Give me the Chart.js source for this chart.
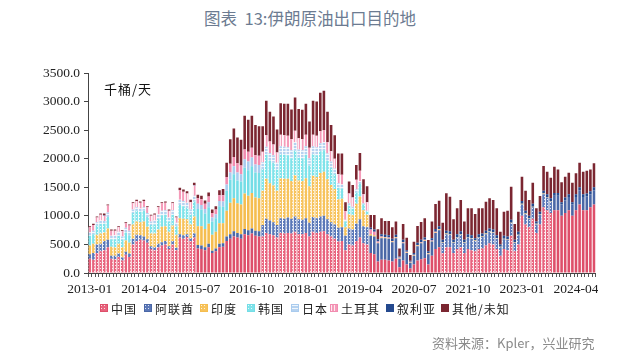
<!DOCTYPE html>
<html><head><meta charset="utf-8">
<script src="https://cdn.jsdelivr.net/npm/chart.js@4.4.1/dist/chart.umd.min.js"></script>
<style>
html,body{margin:0;padding:0;background:#fff;}
#wrap{position:relative;width:640px;height:354px;overflow:hidden;background:#fff;}
#title{position:absolute;left:0;width:620px;top:6px;text-align:center;font:16.5px 'Noto Sans CJK SC';color:#6c7b91;white-space:pre;}
#cvbox{position:absolute;left:0;top:0;width:598px;height:354px;overflow:hidden;}
#unit{position:absolute;left:104px;top:79px;font:13px 'Noto Sans CJK SC';color:#111;letter-spacing:1px;}
.lg{position:absolute;top:300px;height:16px;font:12px 'Noto Sans CJK SC';color:#222;display:flex;align-items:center;letter-spacing:1px;white-space:nowrap;}
.lg canvas{margin-right:3px;}
#src{position:absolute;left:432px;top:333px;font:13px 'Noto Sans CJK SC';color:#8a8a8a;}
</style></head>
<body><div id="wrap">
<div id="title">图表  13:伊朗原油出口目的地</div>
<div id="cvbox"><canvas id="cv" width="598" height="354"></canvas></div>
<div id="unit">千桶/天</div>
<div id="legend"></div>
<div id="src">资料来源：Kpler，兴业研究</div>
</div>
<script>
const months = [
"2013-01","2013-02","2013-03","2013-04","2013-05","2013-06","2013-07","2013-08","2013-09","2013-10","2013-11","2013-12",
"2014-01","2014-02","2014-03","2014-04","2014-05","2014-06","2014-07","2014-08","2014-09","2014-10","2014-11","2014-12",
"2015-01","2015-02","2015-03","2015-04","2015-05","2015-06","2015-07","2015-08","2015-09","2015-10","2015-11","2015-12",
"2016-01","2016-02","2016-03","2016-04","2016-05","2016-06","2016-07","2016-08","2016-09","2016-10","2016-11","2016-12",
"2017-01","2017-02","2017-03","2017-04","2017-05","2017-06","2017-07","2017-08","2017-09","2017-10","2017-11","2017-12",
"2018-01","2018-02","2018-03","2018-04","2018-05","2018-06","2018-07","2018-08","2018-09","2018-10","2018-11","2018-12",
"2019-01","2019-02","2019-03","2019-04","2019-05","2019-06","2019-07","2019-08","2019-09","2019-10","2019-11","2019-12",
"2020-01","2020-02","2020-03","2020-04","2020-05","2020-06","2020-07","2020-08","2020-09","2020-10","2020-11","2020-12",
"2021-01","2021-02","2021-03","2021-04","2021-05","2021-06","2021-07","2021-08","2021-09","2021-10","2021-11","2021-12",
"2022-01","2022-02","2022-03","2022-04","2022-05","2022-06","2022-07","2022-08","2022-09","2022-10","2022-11","2022-12",
"2023-01","2023-02","2023-03","2023-04","2023-05","2023-06","2023-07","2023-08","2023-09","2023-10","2023-11","2023-12",
"2024-01","2024-02","2024-03","2024-04","2024-05","2024-06","2024-07","2024-08","2024-09"
];
const tickLabels = ["2013-01","2014-04","2015-07","2016-10","2018-01","2019-04","2020-07","2021-10","2023-01","2024-04"];
const yTicks = [0,500,1000,1500,2000,2500,3000,3500];

const china = [
250,230,350,380,400,450,250,240,280,220,320,280,
500,560,580,570,530,420,400,450,480,500,420,500,
400,620,600,630,560,620,
430,420,400,450,350,380,450,460,560,600,640,620,600,680,660,690,650,640,
640,700,680,660,620,700,690,700,690,720,680,680,700,640,720,700,720,730,680,640,600,550,560,
400,500,480,560,620,520,500,350,330,
200,230,230,220,200,250,100,220,150,80,150,220,240,260,150,300,420,450,
350,450,450,350,420,450,350,420,400,380,420,430,480,520,500,420,300,420,400,650,380,500,
1000,850,800,950,700,850,1150,1100,1050,1100,1100,1000,1050,1100,1000,1100,1200,1100,1100,1150,1200
];
const uae = [
80,120,150,130,160,130,50,60,60,50,50,60,
100,110,80,70,60,50,50,60,60,60,50,60,
40,60,60,50,50,70,
60,60,50,60,40,50,60,60,80,80,90,80,80,90,90,90,90,90,
200,250,240,230,220,260,260,270,260,270,260,250,260,240,260,260,270,270,260,250,250,240,240,
250,280,280,300,320,300,300,300,310,
320,380,380,380,340,360,150,300,200,100,150,250,280,300,180,250,280,300,
180,230,220,180,200,220,180,200,200,180,200,200,200,200,200,180,150,170,180,220,150,160,
200,180,150,200,150,170,230,220,200,250,250,200,220,230,200,230,250,230,240,230,250
];
const india = [
150,160,170,180,150,200,160,150,170,180,200,190,
250,230,230,260,220,220,240,250,270,260,250,270,
230,280,290,260,240,300,
330,340,320,350,280,290,360,350,450,550,580,520,520,620,600,620,580,580,
600,700,650,640,600,700,700,680,660,720,680,680,700,640,720,720,760,770,700,650,620,500,500,
150,250,250,350,400,280,220,30,20,
10,10,10,10,10,10,10,10,10,10,10,10,10,10,10,10,10,10,
10,10,10,10,10,10,10,10,10,10,10,10,10,10,10,10,10,10,10,10,10,10,
10,10,10,10,10,10,10,10,10,0,0,0,0,0,0,0,0,0,0,0,0
];
const korea = [
170,170,160,170,150,200,130,140,140,130,140,130,
200,190,180,190,170,150,160,190,200,200,180,190,
150,230,220,200,180,260,
300,290,270,290,230,240,300,290,350,400,420,400,400,450,450,470,440,440,
380,420,400,400,370,420,420,410,400,430,400,400,410,360,380,380,380,380,330,300,260,200,180,
100,150,120,200,220,100,60,0,0,
0,0,0,0,0,0,0,0,0,0,0,0,0,0,0,0,0,0,
0,0,0,0,0,0,0,0,0,0,0,0,0,0,0,0,0,0,0,0,0,0,
0,0,0,0,0,0,0,0,0,0,0,0,0,0,0,0,0,0,0,0,0
];
const japan = [
60,60,60,60,50,80,60,70,70,60,80,80,
60,60,60,60,70,60,70,80,80,80,70,80,
60,90,90,90,80,100,
90,80,80,90,70,70,90,90,110,130,140,140,130,150,150,150,140,140,
120,140,130,130,120,140,140,140,140,150,140,140,150,130,140,140,140,140,120,110,100,80,70,
30,40,30,50,50,20,10,0,0,
0,0,0,0,0,0,0,0,0,0,0,0,0,0,0,0,0,0,
0,0,0,0,0,0,0,0,0,0,0,0,0,0,0,0,0,0,0,0,0,0,
0,0,0,0,0,0,0,0,0,0,0,0,0,0,0,0,0,0,0,0,0
];
const turkey = [
90,100,80,100,90,120,90,80,80,90,80,90,
110,110,100,110,100,100,100,120,130,130,120,120,
90,170,160,160,130,180,
100,100,90,100,80,80,100,110,130,150,160,160,150,170,170,170,160,160,
180,200,200,190,180,200,200,200,190,200,200,190,200,180,200,200,210,210,200,180,170,160,170,
150,170,160,170,180,160,150,80,60,
20,20,10,10,10,10,10,10,10,5,10,10,10,10,10,10,10,10,
0,0,0,0,0,0,0,0,0,0,0,0,0,0,0,0,0,0,0,0,0,0,
0,0,0,0,0,0,0,0,0,0,0,0,0,0,0,0,0,0,0,0,0
];
const syria = [
0,0,0,0,10,0,0,0,0,0,0,0,
0,0,0,0,0,0,0,0,0,0,0,0,
0,0,0,0,0,10,
0,0,0,0,0,0,0,0,0,0,0,0,0,0,0,0,0,0,
0,0,0,0,0,0,0,0,0,0,0,0,0,0,0,0,0,0,0,0,0,0,0,
0,0,0,0,0,0,0,30,40,
40,40,40,40,40,40,20,40,30,20,30,40,40,40,30,40,50,50,
40,50,50,40,50,50,40,50,50,40,50,50,50,50,50,50,40,50,50,50,40,50,
50,50,40,50,40,40,50,50,50,50,50,40,50,50,40,50,50,50,50,50,50
];
const other = [
20,20,20,20,30,20,20,20,20,20,20,20,
20,20,20,20,20,20,20,20,20,20,20,20,
20,40,40,40,40,40,
60,60,60,70,60,60,90,110,250,430,500,450,450,590,560,560,530,520,
450,605,520,490,400,550,550,560,520,580,510,515,540,460,595,600,675,690,530,460,410,360,370,
160,210,220,260,310,260,280,225,255,
175,277,240,250,200,230,140,278,219,100,198,292,312,337,198,290,438,446,
300,655,606,360,452,548,320,452,472,422,452,442,509,527,518,472,223,423,451,581,278,353,
426,351,278,371,232,278,432,393,358,460,413,347,366,376,341,364,431,393,401,383,419
];

// styling
const solidRanges = [[30,47],[78,97],[129,140]];
function isSolid(i){ return solidRanges.some(r => i >= r[0] && i <= r[1]); }
function makePattern(base, kind){
  const c = document.createElement('canvas'); c.width = 3; c.height = 3;
  const g = c.getContext('2d');
  g.fillStyle = base; g.fillRect(0,0,3,3);
  g.fillStyle = 'rgba(255,255,255,0.8)';
  if (kind === 'dot') g.fillRect(1,1,1,1);
  else if (kind === 'h') g.fillRect(0,1,3,1);
  else if (kind === 'v') g.fillRect(1,0,1,3);
  return g.createPattern(c, 'repeat');
}
const seriesDefs = [
  {label:'中国', data:china, color:'#e8637d', solid:'#de4f6a', kind:'dot'},
  {label:'阿联酋', data:uae, color:'#5b78b8', solid:'#4a67a6', kind:'dot'},
  {label:'印度', data:india, color:'#f7c35c', solid:'#f5bd4f', kind:'dot'},
  {label:'韩国', data:korea, color:'#7fe3ea', solid:'#74dde6', kind:'dot'},
  {label:'日本', data:japan, color:'#b5d2f0', solid:'#a9cbee', kind:'h'},
  {label:'土耳其', data:turkey, color:'#f59bb9', solid:'#f28cb0', kind:'v'},
  {label:'叙利亚', data:syria, color:'#24498e', solid:'#24498e', kind:'none'},
  {label:'其他/未知', data:other, color:'#7b2631', solid:'#7b2631', kind:'none'}
];
const datasets = seriesDefs.map(s => {
  const pat = s.kind === 'none' ? s.color : makePattern(s.color, s.kind);
  return {
    label: s.label, data: s.data, borderWidth: 0,
    backgroundColor: ctx => isSolid(ctx.dataIndex) ? s.solid : pat,
    barPercentage: 0.72, categoryPercentage: 1.0
  };
});

// HTML legend
const lgX = [100,144,200,247,291,330,386,441];
const lgBox = document.getElementById('legend');
seriesDefs.forEach((s, k) => {
  const d = document.createElement('div'); d.className = 'lg'; d.style.left = lgX[k] + 'px';
  const c = document.createElement('canvas'); c.width = 8; c.height = 8;
  const g = c.getContext('2d');
  g.fillStyle = s.kind === 'none' ? s.color : makePattern(s.color, s.kind);
  g.fillRect(0,0,8,8);
  if (s.kind !== 'none') { g.strokeStyle = s.solid; g.lineWidth = 1; g.strokeRect(0.5,0.5,7,7); }
  d.appendChild(c);
  const t = document.createElement('span'); t.textContent = s.label; d.appendChild(t);
  lgBox.appendChild(d);
});

new Chart(document.getElementById('cv'), {
  type: 'bar',
  data: { labels: months, datasets },
  options: {
    responsive: false, animation: false,
    layout: { padding: { left: 0, right: 1, top: 73, bottom: 0 } },
    plugins: { legend: { display: false }, tooltip: { enabled: false } },
    scales: {
      x: {
        stacked: true,
        grid: { drawOnChartArea: false, tickLength: 4, color: '#555', offset: true },
        border: { color: '#444' },
        ticks: {
          autoSkip: false, maxRotation: 0, minRotation: 0, padding: 4, color: '#222',
          font: { family: 'Liberation Serif', size: 13.5 },
          callback: function(v){ const l = this.getLabelForValue(v); return tickLabels.includes(l) ? l : ''; }
        },
        afterFit: s => { s.height = 81; }
      },
      y: {
        stacked: true, min: 0, max: 3500,
        grid: { drawOnChartArea: false, tickLength: 4, color: '#444' },
        border: { color: '#444' },
        afterBuildTicks: s => { s.ticks = yTicks.map(v => ({ value: v })); },
        ticks: {
          color: '#222', padding: 4,
          font: { family: 'Liberation Serif', size: 13.5 },
          callback: v => Number(v).toFixed(1)
        },
        afterFit: s => { s.width = 88; }
      }
    }
  }
});
</script>
</body></html>
